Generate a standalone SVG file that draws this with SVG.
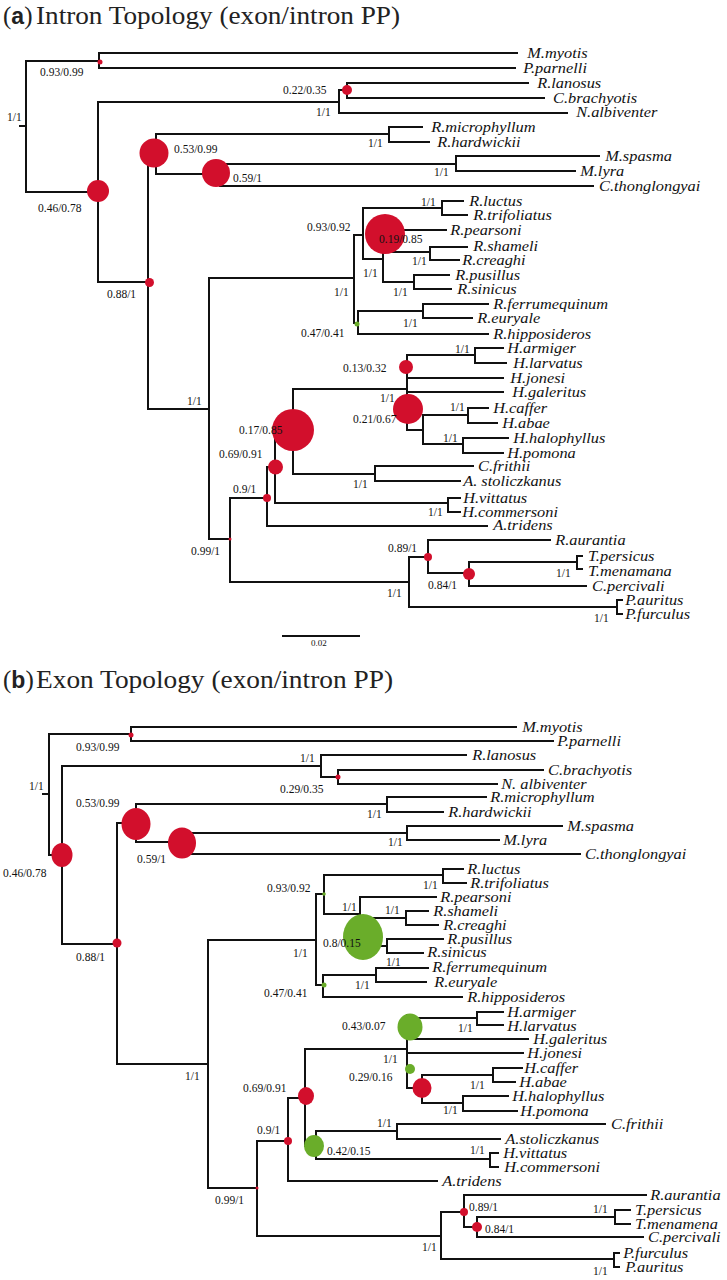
<svg xmlns="http://www.w3.org/2000/svg" width="727" height="1280" viewBox="0 0 727 1280">
<style>
.e path{fill:none;stroke:#111;stroke-width:2;stroke-linecap:square}
.t{font-family:"Liberation Serif",serif;font-style:italic;font-size:14px;fill:#111;transform-box:fill-box;transform-origin:0 0;transform:scaleX(1.17)}
.s{font-family:"Liberation Serif",serif;font-size:11.5px;fill:#111}
.r{fill:#d20f2c}
.g{fill:#6aad2a}
.ttl{font-family:"Liberation Serif",serif;font-size:25px;fill:#222}
.ab{font-family:"Liberation Sans",sans-serif;font-weight:bold;font-size:23px}
.sb{font-family:"Liberation Serif",serif;font-size:9px;fill:#111}
</style>
<rect width="727" height="1280" fill="#fff"/>

<!-- ===== Panel a ===== -->
<g id="title-a"><text class="ttl" x="3" y="24">(<tspan class="ab">a</tspan>)</text><text class="ttl" x="36" y="24" textLength="364" lengthAdjust="spacingAndGlyphs">Intron Topology (exon/intron PP)</text></g>

<g id="connectors-a" class="e">
<path d="M20 126H26M26 61V192M26 61H99M99 53V68M99 53H517M99 68H515"/>
<path d="M26 192H98M98 102V282M98 102H339M339 90V113M339 90H347M347 83V98M347 83H528M347 98H544M339 113H567"/>
<path d="M98 282H148M148 153V409M148 153H156M156 134V174M156 134H389M389 127V142M389 127H422M389 142H429"/>
<path d="M156 174H220M220 164V186M220 164H456M456 156V171M456 156H599M456 171H575M220 186H593"/>
<path d="M148 409H209M209 278V539M209 278H354M354 235V323M354 235H363M363 208V259M363 208H442M442 201V215M442 201H463M442 215H467"/>
<path d="M363 259H383M383 230V282M383 230H446M383 252H430M430 247V260M430 247H467M430 260H459M383 282H414M414 275V289M414 275H449M414 289H451"/>
<path d="M354 323H358M358 311V334M358 311H423M423 304V318M423 304H488M423 318H472M358 334H488"/>
<path d="M209 539H230M230 498V582M230 498H267M267 467V526M267 467H275M275 430V503M275 430H293M293 389V474M293 389H407"/>
<path d="M407 355V430M407 355H475M475 348V363M475 348H503M475 363H506M407 378H503M407 392H503"/>
<path d="M407 430H423M423 415V444M423 415H468M468 408V423M468 408H488M468 423H497M423 444H463M463 438V453M463 438H508M463 453H503"/>
<path d="M293 474H375M375 466V481M375 466H473M375 481H460M275 503H448M448 498V512M448 498H460M448 512H460M267 526H487"/>
<path d="M230 582H409M409 557V607M409 557H428M428 540V573M428 540H550M428 573H469M469 562V586M469 562H577M577 556V569M577 556H582M577 569H582M469 586H586"/>
<path d="M409 607H617M617 600V614M617 600H622M617 614H622"/>
<path d="M283 636H359"/>
</g>

<g id="a-n1"><text class="s" x="7" y="121">1/1</text></g>
<g id="a-n2"><circle class="r" cx="100" cy="62" r="2.5"/><text class="s" x="40" y="76">0.93/0.99</text></g>
<g id="a-n3"><circle class="r" cx="98" cy="191" r="11"/><text class="s" x="38" y="212">0.46/0.78</text></g>
<g id="a-n4"><circle class="r" cx="347" cy="90" r="5"/><text class="s" x="283" y="94">0.22/0.35</text></g>
<g id="a-n5"><text class="s" x="316" y="116">1/1</text></g>
<g id="a-n6"><circle class="r" cx="154" cy="153" r="14.5"/><text class="s" x="174" y="153">0.53/0.99</text></g>
<g id="a-n7"><text class="s" x="368" y="147">1/1</text></g>
<g id="a-n8"><circle class="r" cx="216" cy="173" r="14"/><text class="s" x="233" y="182">0.59/1</text></g>
<g id="a-n9"><text class="s" x="434" y="176">1/1</text></g>
<g id="a-n10"><circle class="r" cx="149.5" cy="282.5" r="4.5"/><text class="s" x="107" y="298">0.88/1</text></g>
<g id="a-n11"><text class="s" x="187" y="405">1/1</text></g>
<g id="a-n12"><text class="s" x="334" y="296">1/1</text></g>
<g id="a-n13"><text class="s" x="307" y="231">0.93/0.92</text></g>
<g id="a-n14"><text class="s" x="421" y="206">1/1</text></g>
<g id="a-n15"><circle class="r" cx="385" cy="234" r="20"/><text class="s" x="379" y="243">0.19/0.85</text></g>
<g id="a-n16"><text class="s" x="363" y="277">1/1</text></g>
<g id="a-n17"><text class="s" x="412" y="265">1/1</text></g>
<g id="a-n18"><text class="s" x="393" y="296">1/1</text></g>
<g id="a-n19"><circle class="g" cx="357" cy="324" r="2.5"/><text class="s" x="301" y="337">0.47/0.41</text></g>
<g id="a-n20"><text class="s" x="403" y="327">1/1</text></g>
<g id="a-n21"><circle class="r" cx="230" cy="539" r="1.5"/><text class="s" x="191" y="555">0.99/1</text></g>
<g id="a-n22"><circle class="r" cx="267" cy="498" r="4"/><text class="s" x="233" y="493">0.9/1</text></g>
<g id="a-n23"><circle class="r" cx="275.5" cy="467" r="7.5"/><text class="s" x="219" y="458">0.69/0.91</text></g>
<g id="a-n24"><circle class="r" cx="293" cy="430" r="21"/><text class="s" x="239" y="434">0.17/0.85</text></g>
<g id="a-n25"><circle class="r" cx="406" cy="367" r="7"/><text class="s" x="343" y="372">0.13/0.32</text></g>
<g id="a-n26"><text class="s" x="380" y="402">1/1</text></g>
<g id="a-n27"><circle class="r" cx="408" cy="409" r="15"/><text class="s" x="353" y="423">0.21/0.67</text></g>
<g id="a-n28"><text class="s" x="455" y="353">1/1</text></g>
<g id="a-n29"><text class="s" x="450" y="411">1/1</text></g>
<g id="a-n30"><text class="s" x="443" y="442">1/1</text></g>
<g id="a-n31"><text class="s" x="353" y="488">1/1</text></g>
<g id="a-n32"><text class="s" x="428" y="516">1/1</text></g>
<g id="a-n33"><circle class="r" cx="428" cy="557" r="4"/><text class="s" x="388" y="552">0.89/1</text></g>
<g id="a-n34"><circle class="r" cx="469" cy="574" r="6"/><text class="s" x="428" y="589">0.84/1</text></g>
<g id="a-n35"><text class="s" x="387" y="597">1/1</text></g>
<g id="a-n36"><text class="s" x="556" y="577">1/1</text></g>
<g id="a-n37"><text class="s" x="594" y="622">1/1</text></g>
<g id="a-scale"><text class="sb" x="311" y="646">0.02</text></g>

<g id="a-leaves">
<g id="a-Mmyotis"><text class="t" x="527" y="58">M.myotis</text></g>
<g id="a-Pparnelli"><text class="t" x="523" y="73">P.parnelli</text></g>
<g id="a-Rlanosus"><text class="t" x="537" y="88">R.lanosus</text></g>
<g id="a-Cbrachyotis"><text class="t" x="553" y="103">C.brachyotis</text></g>
<g id="a-Nalbiventer"><text class="t" x="576" y="117">N.albiventer</text></g>
<g id="a-Rmicrophyllum"><text class="t" x="431" y="132">R.microphyllum</text></g>
<g id="a-Rhardwickii"><text class="t" x="437" y="147">R.hardwickii</text></g>
<g id="a-Mspasma"><text class="t" x="605" y="161">M.spasma</text></g>
<g id="a-Mlyra"><text class="t" x="580" y="176">M.lyra</text></g>
<g id="a-Cthonglongyai"><text class="t" x="599" y="191">C.thonglongyai</text></g>
<g id="a-Rluctus"><text class="t" x="469" y="206">R.luctus</text></g>
<g id="a-Rtrifoliatus"><text class="t" x="473" y="220">R.trifoliatus</text></g>
<g id="a-Rpearsoni"><text class="t" x="450" y="235">R.pearsoni</text></g>
<g id="a-Rshameli"><text class="t" x="473" y="251">R.shameli</text></g>
<g id="a-Rcreaghi"><text class="t" x="462" y="265">R.creaghi</text></g>
<g id="a-Rpusillus"><text class="t" x="455" y="280">R.pusillus</text></g>
<g id="a-Rsinicus"><text class="t" x="457" y="294">R.sinicus</text></g>
<g id="a-Rferrumequinum"><text class="t" x="493" y="309">R.ferrumequinum</text></g>
<g id="a-Reuryale"><text class="t" x="477" y="323">R.euryale</text></g>
<g id="a-Rhipposideros"><text class="t" x="493" y="339">R.hipposideros</text></g>
<g id="a-Harmiger"><text class="t" x="507" y="353">H.armiger</text></g>
<g id="a-Hlarvatus"><text class="t" x="513" y="368">H.larvatus</text></g>
<g id="a-Hjonesi"><text class="t" x="510" y="383">H.jonesi</text></g>
<g id="a-Hgaleritus"><text class="t" x="512" y="397">H.galeritus</text></g>
<g id="a-Hcaffer"><text class="t" x="493" y="413">H.caffer</text></g>
<g id="a-Habae"><text class="t" x="502" y="428">H.abae</text></g>
<g id="a-Hhalophyllus"><text class="t" x="513" y="443">H.halophyllus</text></g>
<g id="a-Hpomona"><text class="t" x="507" y="458">H.pomona</text></g>
<g id="a-Cfrithii"><text class="t" x="478" y="471">C.frithii</text></g>
<g id="a-Astoliczkanus"><text class="t" x="463" y="486">A. stoliczkanus</text></g>
<g id="a-Hvittatus"><text class="t" x="463" y="503">H.vittatus</text></g>
<g id="a-Hcommersoni"><text class="t" x="462" y="517">H.commersoni</text></g>
<g id="a-Atridens"><text class="t" x="493" y="530">A.tridens</text></g>
<g id="a-Raurantia"><text class="t" x="555" y="545">R.aurantia</text></g>
<g id="a-Tpersicus"><text class="t" x="588" y="561">T.persicus</text></g>
<g id="a-Tmenamana"><text class="t" x="588" y="576">T.menamana</text></g>
<g id="a-Cpercivali"><text class="t" x="592" y="591">C.percivali</text></g>
<g id="a-Pauritus"><text class="t" x="625" y="605">P.auritus</text></g>
<g id="a-Pfurculus"><text class="t" x="625" y="619">P.furculus</text></g>
</g>

<!-- ===== Panel b ===== -->
<g id="title-b"><text class="ttl" x="3" y="688">(<tspan class="ab">b</tspan>)</text><text class="ttl" x="36" y="688" textLength="357" lengthAdjust="spacingAndGlyphs">Exon Topology (exon/intron PP)</text></g>

<g id="connectors-b" class="e">
<path d="M43 794H49M49 734V855M49 734H131M131 727V741M131 727H516M131 741H553"/>
<path d="M49 855H62M62 766V944M62 766H321M321 755V777M321 755H466M321 777H338M338 770V784M338 770H543M338 784H497"/>
<path d="M62 944H117M117 823V1064M117 823H136M136 804V842M136 804H387M387 797V812M387 797H486M387 812H443"/>
<path d="M136 842H188M188 833V854M188 833H407M407 826V840M407 826H562M407 840H499M188 854H580"/>
<path d="M117 1064H208M208 940V1188M208 940H316M316 894V985M316 894H324M324 875V914M324 875H443M443 869V883M443 869H463M443 883H466"/>
<path d="M324 914H360M360 897V946M360 897H436M360 918H406M406 911V925M406 911H428M406 925H438M360 946H387M387 939V953M387 939H443M387 953H423"/>
<path d="M316 985H323M323 975V997M323 975H376M376 968V982M376 968H428M376 982H426M323 997H462"/>
<path d="M208 1188H257M257 1141V1236M257 1141H288M288 1098V1181M288 1098H305M305 1049V1146M305 1146H316M316 1131V1159M316 1131H397M397 1124V1139M397 1124H605M397 1139H500"/>
<path d="M316 1159H490M490 1153V1167M490 1153H498M490 1167H498M288 1181H437"/>
<path d="M305 1049H407M407 1015V1088M407 1018H477M477 1012V1025M477 1012H503M477 1025H503M407 1039H528M407 1053H523"/>
<path d="M407 1088H422M422 1075V1103M422 1075H493M493 1068V1082M493 1068H522M493 1082H515M422 1103H463M463 1096V1111M463 1096H508M463 1111H517"/>
<path d="M257 1236H441M441 1212V1259M441 1212H464M464 1195V1227M464 1195H646M464 1227H477M477 1217V1237M477 1217H615M615 1210V1224M615 1210H630M615 1224H630M477 1237H643"/>
<path d="M441 1259H614M614 1253V1267M614 1253H619M614 1267H619"/>
</g>

<g id="b-n1"><text class="s" x="29" y="790">1/1</text></g>
<g id="b-n2"><circle class="r" cx="131" cy="735" r="2.5"/><text class="s" x="76" y="751">0.93/0.99</text></g>
<g id="b-n3"><ellipse class="r" cx="62" cy="855" rx="10.5" ry="12"/><text class="s" x="3" y="877">0.46/0.78</text></g>
<g id="b-n4"><text class="s" x="300" y="762">1/1</text></g>
<g id="b-n5"><circle class="r" cx="338" cy="777" r="2.5"/><text class="s" x="280" y="793">0.29/0.35</text></g>
<g id="b-n6"><ellipse class="r" cx="136" cy="824" rx="14.5" ry="16"/><text class="s" x="76" y="807">0.53/0.99</text></g>
<g id="b-n7"><text class="s" x="367" y="818">1/1</text></g>
<g id="b-n8"><ellipse class="r" cx="182" cy="843" rx="14" ry="15.5"/><text class="s" x="137" y="863">0.59/1</text></g>
<g id="b-n9"><text class="s" x="388" y="846">1/1</text></g>
<g id="b-n10"><circle class="r" cx="117" cy="943" r="4.5"/><text class="s" x="76" y="961">0.88/1</text></g>
<g id="b-n11"><text class="s" x="185" y="1080">1/1</text></g>
<g id="b-n12"><text class="s" x="293" y="957">1/1</text></g>
<g id="b-n13"><circle class="g" cx="324" cy="894" r="1.8"/><text class="s" x="267" y="892">0.93/0.92</text></g>
<g id="b-n14"><text class="s" x="423" y="889">1/1</text></g>
<g id="b-n15"><text class="s" x="342" y="911">1/1</text></g>
<g id="b-n16"><text class="s" x="385" y="914">1/1</text></g>
<g id="b-n17"><ellipse class="g" cx="363" cy="937" rx="20" ry="23"/><text class="s" x="323" y="947">0.8/0.15</text></g>
<g id="b-n18"><text class="s" x="386" y="966">1/1</text></g>
<g id="b-n19"><circle class="g" cx="324" cy="985" r="2.5"/><text class="s" x="264" y="997">0.47/0.41</text></g>
<g id="b-n20"><text class="s" x="355" y="989">1/1</text></g>
<g id="b-n21"><circle class="r" cx="257" cy="1188" r="1.5"/><text class="s" x="215" y="1204">0.99/1</text></g>
<g id="b-n22"><circle class="r" cx="288" cy="1141" r="4"/><text class="s" x="257" y="1134">0.9/1</text></g>
<g id="b-n23"><ellipse class="r" cx="306" cy="1096" rx="8" ry="9"/><text class="s" x="243" y="1092">0.69/0.91</text></g>
<g id="b-n24"><ellipse class="g" cx="314" cy="1146" rx="10" ry="11"/><text class="s" x="327" y="1155">0.42/0.15</text></g>
<g id="b-n25"><ellipse class="g" cx="410" cy="1027" rx="12.5" ry="13.5"/><text class="s" x="342" y="1030">0.43/0.07</text></g>
<g id="b-n26"><text class="s" x="383" y="1063">1/1</text></g>
<g id="b-n27"><circle class="g" cx="410" cy="1069" r="5"/><text class="s" x="349" y="1081">0.29/0.16</text></g>
<g id="b-n28"><ellipse class="r" cx="422" cy="1088" rx="9.5" ry="10"/></g>
<g id="b-n29"><text class="s" x="458" y="1032">1/1</text></g>
<g id="b-n30"><text class="s" x="470" y="1089">1/1</text></g>
<g id="b-n31"><text class="s" x="443" y="1114">1/1</text></g>
<g id="b-n32"><text class="s" x="377" y="1127">1/1</text></g>
<g id="b-n33"><text class="s" x="470" y="1154">1/1</text></g>
<g id="b-n34"><circle class="r" cx="464" cy="1212" r="4"/><text class="s" x="469" y="1211">0.89/1</text></g>
<g id="b-n35"><circle class="r" cx="477" cy="1227" r="5"/><text class="s" x="485" y="1233">0.84/1</text></g>
<g id="b-n36"><text class="s" x="422" y="1251">1/1</text></g>
<g id="b-n37"><text class="s" x="593" y="1213">1/1</text></g>
<g id="b-n38"><text class="s" x="593" y="1275">1/1</text></g>

<g id="b-leaves">
<g id="b-Mmyotis"><text class="t" x="522" y="732">M.myotis</text></g>
<g id="b-Pparnelli"><text class="t" x="557" y="746">P.parnelli</text></g>
<g id="b-Rlanosus"><text class="t" x="472" y="760">R.lanosus</text></g>
<g id="b-Cbrachyotis"><text class="t" x="548" y="775">C.brachyotis</text></g>
<g id="b-Nalbiventer"><text class="t" x="501" y="789">N. albiventer</text></g>
<g id="b-Rmicrophyllum"><text class="t" x="490" y="802">R.microphyllum</text></g>
<g id="b-Rhardwickii"><text class="t" x="448" y="817">R.hardwickii</text></g>
<g id="b-Mspasma"><text class="t" x="567" y="831">M.spasma</text></g>
<g id="b-Mlyra"><text class="t" x="503" y="845">M.lyra</text></g>
<g id="b-Cthonglongyai"><text class="t" x="585" y="859">C.thonglongyai</text></g>
<g id="b-Rluctus"><text class="t" x="467" y="874">R.luctus</text></g>
<g id="b-Rtrifoliatus"><text class="t" x="470" y="888">R.trifoliatus</text></g>
<g id="b-Rpearsoni"><text class="t" x="440" y="902">R.pearsoni</text></g>
<g id="b-Rshameli"><text class="t" x="433" y="916">R.shameli</text></g>
<g id="b-Rcreaghi"><text class="t" x="443" y="930">R.creaghi</text></g>
<g id="b-Rpusillus"><text class="t" x="447" y="944">R.pusillus</text></g>
<g id="b-Rsinicus"><text class="t" x="427" y="957">R.sinicus</text></g>
<g id="b-Rferrumequinum"><text class="t" x="432" y="972">R.ferrumequinum</text></g>
<g id="b-Reuryale"><text class="t" x="434" y="987">R.euryale</text></g>
<g id="b-Rhipposideros"><text class="t" x="467" y="1002">R.hipposideros</text></g>
<g id="b-Harmiger"><text class="t" x="507" y="1017">H.armiger</text></g>
<g id="b-Hlarvatus"><text class="t" x="507" y="1031">H.larvatus</text></g>
<g id="b-Hgaleritus"><text class="t" x="533" y="1044">H.galeritus</text></g>
<g id="b-Hjonesi"><text class="t" x="527" y="1058">H.jonesi</text></g>
<g id="b-Hcaffer"><text class="t" x="524" y="1073">H.caffer</text></g>
<g id="b-Habae"><text class="t" x="519" y="1087">H.abae</text></g>
<g id="b-Hhalophyllus"><text class="t" x="512" y="1101">H.halophyllus</text></g>
<g id="b-Hpomona"><text class="t" x="520" y="1116">H.pomona</text></g>
<g id="b-Cfrithii"><text class="t" x="611" y="1129">C.frithii</text></g>
<g id="b-Astoliczkanus"><text class="t" x="505" y="1144">A.stoliczkanus</text></g>
<g id="b-Hvittatus"><text class="t" x="503" y="1158">H.vittatus</text></g>
<g id="b-Hcommersoni"><text class="t" x="504" y="1172">H.commersoni</text></g>
<g id="b-Atridens"><text class="t" x="442" y="1186">A.tridens</text></g>
<g id="b-Raurantia"><text class="t" x="650" y="1200">R.aurantia</text></g>
<g id="b-Tpersicus"><text class="t" x="635" y="1215">T.persicus</text></g>
<g id="b-Tmenamena"><text class="t" x="635" y="1229">T.menamena</text></g>
<g id="b-Cpercivali"><text class="t" x="648" y="1242">C.percivali</text></g>
<g id="b-Pfurculus"><text class="t" x="623" y="1258">P.furculus</text></g>
<g id="b-Pauritus"><text class="t" x="625" y="1272">P.auritus</text></g>
</g>
</svg>
